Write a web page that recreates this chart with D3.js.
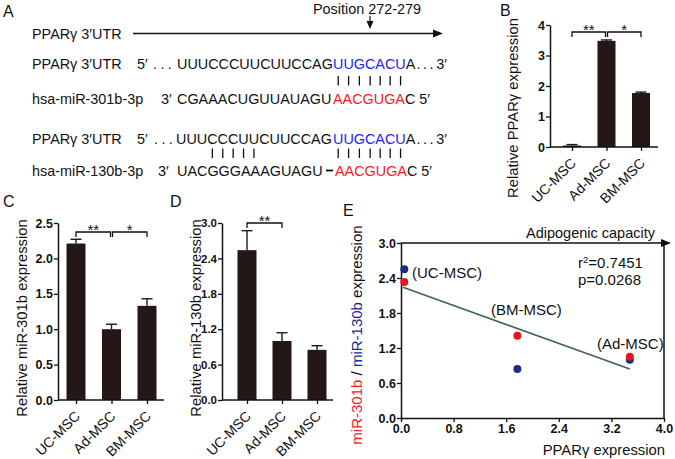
<!DOCTYPE html>
<html><head><meta charset="utf-8">
<script src="https://cdn.jsdelivr.net/npm/d3@7"></script>
<style>
body{margin:0;background:#fff}
svg{display:block}
text{font-family:"Liberation Sans",Arial,Helvetica,sans-serif;fill:#111}
</style>
</head><body>
<svg id="c" width="675" height="459"></svg>
<script>
// ---------------- DATA ----------------
const groups = ["UC-MSC", "Ad-MSC", "BM-MSC"];
const pparMean = [0.05, 3.48, 1.77];
const pparErr = [0.03, 0.03, 0.03];
const mir301Mean = [2.21, 1.00, 1.33];
const mir301Err = [0.06, 0.07, 0.10];
const mir130Mean = [2.54, 1.00, 0.85];
const mir130Err = [0.33, 0.14, 0.07];
const ticksB = [0, 1, 2, 3, 4];
const ticksC = [0, 0.5, 1.0, 1.5, 2.0, 2.5];
const ticksD = [0, 0.6, 1.2, 1.8, 2.4, 3.0];
const ticksEy = [0, 0.6, 1.2, 1.8, 2.4, 3.0];
const ticksEx = [0, 0.8, 1.6, 2.4, 3.2, 4.0];
const scatterNames = ["(UC-MSC)", "(BM-MSC)", "(Ad-MSC)"];
const scatterPPAR = [0.05, 1.77, 3.48];
const scatter301 = [2.33, 1.41, 1.05];
const scatter130 = [2.55, 0.84, 1.00];
const fitX = [0.03, 3.48];
const fitY = [2.24, 0.84];
const stats = ["r²=0.7451", "p=0.0268"];

// sequences (panel A)
const utrLabel = "PPARγ 3′UTR";
const utrLeft = "UUUCCCUUCUUCCAG";
const utrSite = "UUGCACU";
const mir301Seq = "CGAAACUGUUAUAGU";
const mir130Seq = "UACGGGAAAGUAGU";
const seedSeq = "AACGUGA";

// ---------------- DRAW ----------------
const svg = d3.select("#c");
const BAR = "#231815";
const INK = "#111";
const BLUE = "#2424f5";
const RED = "#f21d1d";
const TITLE = 14.8;

function txt(x, y, s, size, opts = {}) {
  const t = svg.append("text").attr("x", x).attr("y", y).attr("font-size", size).text(s);
  if (opts.anchor) t.attr("text-anchor", opts.anchor);
  if (opts.fill) t.style("fill", opts.fill);
  if (opts.weight) t.attr("font-weight", opts.weight);
  return t;
}
function ln(x1, y1, x2, y2, w = 1.3, c = INK) {
  return svg.append("line").attr("x1", x1).attr("y1", y1).attr("x2", x2).attr("y2", y2)
    .attr("stroke", c).attr("stroke-width", w);
}
function arrowHead(x, y, dir) {
  const p = dir === "right" ? [[x, y], [x - 10, y - 4], [x - 10, y + 4]] : [[x, y], [x - 3.5, y - 8], [x + 3.5, y - 8]];
  svg.append("path").attr("d", d3.line()(p) + "Z").attr("fill", INK);
}

// ----- Panel A -----
const FS = 14.4;
txt(3, 17, "A", 16);
txt(313, 13.5, "Position 272-279", FS);
ln(370, 16, 370, 24, 1.2);
arrowHead(370, 29, "down");
txt(32, 38.5, utrLabel, FS);
ln(133, 33.5, 436, 33.5, 1.4);
arrowHead(443, 33.5, "right");

function seqRow(y, label, endMark, endX, dotsX, left, leftX, core, coreX, coreColor, tailType) {
  txt(32, y, label, FS);
  txt(endX, y, endMark, FS);
  if (dotsX != null) txt(dotsX, y, "...", FS).attr("letter-spacing", 3.4);
  const l = txt(leftX, y, left, FS);
  const c = txt(coreX, y, core, FS, { fill: coreColor });
  const tx = coreX + c.node().getComputedTextLength();
  if (tailType === "utr") {
    const t = txt(tx, y, "", FS);
    t.append("tspan").text("A");
    t.append("tspan").attr("dx", 1).attr("letter-spacing", 2.6).text("...");
    t.append("tspan").attr("letter-spacing", 0).text("3′");
  } else {
    txt(tx, y, "C 5′", FS);
  }
  return { l, c };
}
function pairBars(textSel, idx, y1, y2) {
  const n = textSel.node();
  idx.forEach(i => {
    const e = n.getExtentOfChar(i);
    const cx = e.x + e.width / 2;
    ln(cx, y1, cx, y2, 1.3);
  });
}
const r1 = seqRow(69, utrLabel, "5′", 137, 153, utrLeft, 177, utrSite, 333, BLUE, "utr");
pairBars(r1.c, d3.range(7), 76, 85.5);
seqRow(103.5, "hsa-miR-301b-3p", "3′", 161, null, mir301Seq, 177, seedSeq, 333, RED, "mir");
const r3 = seqRow(143.5, utrLabel, "5′", 137, 154, utrLeft, 176, utrSite, 333, BLUE, "utr");
pairBars(r3.c, d3.range(7), 148.5, 158);
pairBars(r3.l, [3, 4, 5, 6, 7], 148.5, 158);
seqRow(176, "hsa-miR-130b-3p", "3′", 158, null, mir130Seq, 177, seedSeq, 335, RED, "mir");
ln(326, 170.5, 333, 170.5, 1.8);

// ----- Bar panels -----
function barPanel(o) {
  const g = svg.append("g");
  const x = d3.scalePoint().domain(groups).range([o.cx0, o.cx1]);
  const y = d3.scaleLinear().domain([0, o.ymax]).range([o.y0, o.y1]);
  g.selectAll("rect").data(groups).join("rect")
    .attr("x", d => x(d) - o.bw / 2).attr("width", o.bw)
    .attr("y", (d, i) => y(o.means[i])).attr("height", (d, i) => o.y0 - y(o.means[i]))
    .attr("fill", BAR);
  const eb = g.selectAll("g.eb").data(groups).join("g");
  eb.append("line").attr("x1", d => x(d)).attr("x2", d => x(d))
    .attr("y1", (d, i) => y(o.means[i])).attr("y2", (d, i) => y(o.means[i] + o.errs[i]))
    .attr("stroke", BAR).attr("stroke-width", 1.4);
  eb.append("line").attr("x1", d => x(d) - 5.5).attr("x2", d => x(d) + 5.5)
    .attr("y1", (d, i) => y(o.means[i] + o.errs[i])).attr("y2", (d, i) => y(o.means[i] + o.errs[i]))
    .attr("stroke", BAR).attr("stroke-width", 1.4);
  const ya = d3.axisLeft(y).tickValues(o.ticks).tickFormat(o.fmt).tickSize(4).tickSizeOuter(0).tickPadding(1);
  const yg = g.append("g").attr("transform", `translate(${o.ax},0)`).call(ya);
  yg.select(".domain").attr("stroke", INK).attr("stroke-width", 1.5);
  yg.selectAll(".tick line").attr("stroke", INK).attr("stroke-width", 1.3);
  yg.selectAll(".tick text").attr("font-size", o.tickFs || 12.5).attr("font-weight", "bold")
    .attr("font-family", '"Liberation Sans", Arial, sans-serif').style("fill", INK);
  const xa = d3.axisBottom(x).tickSize(4).tickSizeOuter(0).tickFormat("");
  const xg = g.append("g").attr("transform", `translate(0,${o.y0})`).call(xa);
  xg.select(".domain").remove();
  xg.selectAll(".tick line").attr("stroke", INK).attr("stroke-width", 1.3);
  g.append("line").attr("x1", o.ax).attr("x2", o.axEnd).attr("y1", o.y0).attr("y2", o.y0)
    .attr("stroke", INK).attr("stroke-width", 1.5);
  g.selectAll("text.cat").data(groups).join("text").attr("class", "cat")
    .attr("transform", d => `translate(${x(d) + 5},${o.y0 + 17}) rotate(-45)`)
    .attr("text-anchor", "end").attr("font-size", 14).text(d => d);
  g.append("text").attr("transform", `translate(${o.titleX},${o.titleY}) rotate(-90)`)
    .attr("text-anchor", "middle").attr("font-size", TITLE).text(o.title);
  o.brackets.forEach(b => {
    const xa_ = x(groups[b[0]]) + (b[2] || 0), xb_ = x(groups[b[1]]) + (b[3] || 0);
    const by = o.bracketY;
    g.append("path").attr("d", d3.line()([[xa_, by + 5], [xa_, by], [xb_, by], [xb_, by + 5]]))
      .attr("fill", "none").attr("stroke", INK).attr("stroke-width", 1.3);
    g.append("text").attr("x", (xa_ + xb_) / 2).attr("y", by + 3).attr("text-anchor", "middle")
      .attr("font-size", 15).text(b[4]);
  });
  return { x, y };
}

// B
txt(500, 16, "B", 16);
barPanel({
  cx0: 572, cx1: 641, ymax: 4, y0: 147, y1: 25, bw: 18, ax: 550, axEnd: 658,
  means: pparMean, errs: pparErr, ticks: ticksB, fmt: d3.format("d"),
  title: "Relative PPARγ expression", titleX: 518, titleY: 108,
  bracketY: 32, brackets: [[0, 1, 0, -1, "**"], [1, 2, 1, 0, "*"]]
});
// C
txt(3, 207, "C", 16);
barPanel({
  cx0: 76, cx1: 147, ymax: 2.5, y0: 400, y1: 223, bw: 19, ax: 58, axEnd: 164,
  means: mir301Mean, errs: mir301Err, ticks: ticksC, fmt: d3.format(".1f"),
  title: "Relative miR-301b expression", titleX: 27, titleY: 318,
  bracketY: 232, brackets: [[0, 1, 0, -1, "**"], [1, 2, 1, 0, "*"]]
});
// D
txt(170, 207, "D", 16);
barPanel({
  cx0: 247, cx1: 317, ymax: 3.0, y0: 400, y1: 223, bw: 19, ax: 222, axEnd: 333,
  means: mir130Mean, errs: mir130Err, ticks: ticksD, fmt: d3.format(".1f"), tickFs: 11.5,
  title: "Relative miR-130b expression", titleX: 201, titleY: 318,
  bracketY: 223, brackets: [[0, 1, 0, 0, "**"]]
});

// ----- Panel E -----
txt(343, 216, "E", 16);
const ex = d3.scaleLinear().domain([0, 4]).range([401, 664]);
const ey = d3.scaleLinear().domain([0, 3]).range([418, 243]);
const eg = svg.append("g");
const eya = d3.axisLeft(ey).tickValues(ticksEy).tickFormat(d3.format(".1f")).tickSize(4).tickSizeOuter(0).tickPadding(1);
const exa = d3.axisBottom(ex).tickValues(ticksEx).tickFormat(d3.format(".1f")).tickSize(4).tickSizeOuter(0).tickPadding(2);
const eyg = eg.append("g").attr("transform", `translate(${ex(0)},0)`).call(eya);
const exg = eg.append("g").attr("transform", `translate(0,${ey(0)})`).call(exa);
[eyg, exg].forEach(a => {
  a.select(".domain").attr("stroke", INK).attr("stroke-width", 1.5);
  a.selectAll(".tick line").attr("stroke", INK).attr("stroke-width", 1.3);
  a.selectAll(".tick text").attr("font-size", 12.5).attr("font-weight", "bold")
    .attr("font-family", '"Liberation Sans", Arial, sans-serif').style("fill", INK);
});
ln(ex(4), ey(0), ex(4), ey(3), 1.5);
ln(ex(0), ey(3), ex(4) + 1, ey(3), 1.5);
arrowHead(ex(4) + 7, ey(3), "right");
txt(655, 238, "Adipogenic capacity", 14.5, { anchor: "end" });
eg.append("path").attr("d", d3.line().x(d => ex(d[0])).y(d => ey(d[1]))(fitX.map((v, i) => [v, fitY[i]])))
  .attr("stroke", "#3e6649").attr("stroke-width", 1.6).attr("fill", "none");
eg.selectAll("circle.b").data(scatterPPAR).join("circle").attr("class", "b")
  .attr("cx", d => ex(d)).attr("cy", (d, i) => ey(scatter130[i])).attr("r", 4).attr("fill", "#1c2a8e");
eg.selectAll("circle.r").data(scatterPPAR).join("circle").attr("class", "r")
  .attr("cx", d => ex(d)).attr("cy", (d, i) => ey(scatter301[i])).attr("r", 4).attr("fill", "#e8131c");
const labPos = [[412, 278], [491, 315], [597, 349]];
scatterNames.forEach((s, i) => txt(labPos[i][0], labPos[i][1], s, 15));
txt(578, 268, "", 15).call(t => {
  t.append("tspan").text("r");
  t.append("tspan").attr("font-size", 9.5).attr("dy", -5.5).text("2");
  t.append("tspan").attr("dy", 5.5).text(stats[0].slice(2));
});
txt(578, 285, stats[1], 15);
txt(665, 455, "PPARγ expression", TITLE, { anchor: "end" });
const et = svg.append("text").attr("transform", "translate(362,335) rotate(-90)")
  .attr("text-anchor", "middle").attr("font-size", 15);
et.append("tspan").style("fill", "#ee1c24").text("miR-301b");
et.append("tspan").text(" / ");
et.append("tspan").style("fill", "#1c2a8e").text("miR-130b");
et.append("tspan").text(" expression");
</script>
</body></html>
